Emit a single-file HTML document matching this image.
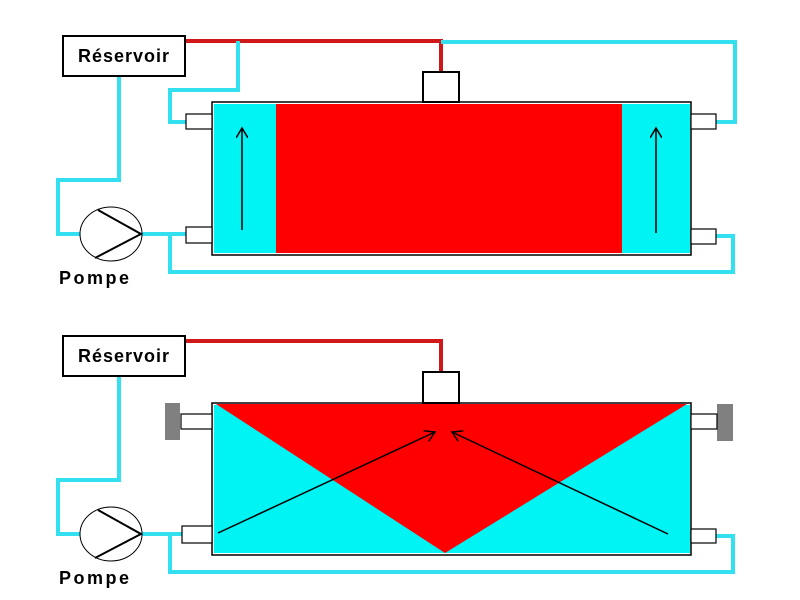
<!DOCTYPE html>
<html><head><meta charset="utf-8"><style>body{margin:0;background:#fff}svg{display:block}</style></head><body>
<svg width="800" height="600" viewBox="0 0 800 600" xmlns="http://www.w3.org/2000/svg" font-family="Liberation Sans, sans-serif">
<defs><marker id="a" markerWidth="12" markerHeight="12" refX="10" refY="6" orient="auto" markerUnits="userSpaceOnUse"><path d="M0,0 L10,6 L0,12" fill="none" stroke="#000" stroke-width="1.5"/></marker></defs>
<g fill="none" stroke-width="4">
<path d="M185,41 H441 V72" stroke="#d01818"/>
<path d="M238,41 V90 H170 V122 H186" stroke="#33e0f0"/>
<path d="M441,42 H735 V122 H716" stroke="#33e0f0"/>
<path d="M119,76 V180 H58 V234 H80" stroke="#33e0f0"/>
<path d="M141,234 H188 M170,234 V272 H733 V236 H716" stroke="#33e0f0"/>
<path d="M185,341 H441 V372" stroke="#d01818"/>
<path d="M119,376 V480 H58 V534 H80" stroke="#33e0f0"/>
<path d="M141,534 H188 M170,534 V572 H733 V536 H716" stroke="#33e0f0"/>
</g>
<rect x="63" y="36" width="122" height="40" fill="#fff" stroke="#000" stroke-width="2"/>
<text x="124" y="62" text-anchor="middle" font-weight="bold" font-size="18" letter-spacing="1">Réservoir</text>
<rect x="212" y="102" width="479" height="153" fill="#fff" stroke="#000" stroke-width="1.5"/>
<rect x="214" y="104" width="62" height="149" fill="#00f4f4"/>
<rect x="622" y="104" width="68" height="149" fill="#00f4f4"/>
<rect x="276" y="104" width="346" height="149" fill="#f00"/>
<rect x="423" y="72" width="36" height="30" fill="#fff" stroke="#000" stroke-width="2"/>
<g fill="#fff" stroke="#000" stroke-width="1.2">
<rect x="186" y="114" width="26" height="15"/><rect x="186" y="227" width="26" height="16"/>
<rect x="691" y="114" width="25" height="15"/><rect x="691" y="229" width="25" height="15"/>
</g>
<line x1="242" y1="230" x2="242" y2="128" stroke="#000" stroke-width="1.5" marker-end="url(#a)"/>
<line x1="656" y1="233" x2="656" y2="128" stroke="#000" stroke-width="1.5" marker-end="url(#a)"/>
<ellipse cx="111" cy="234" rx="31" ry="27" fill="#fff" stroke="#000" stroke-width="1"/>
<path d="M98,210 L141,234 L95,258" fill="none" stroke="#000" stroke-width="2"/>
<text x="59" y="284" font-weight="bold" font-size="18" letter-spacing="2.5">Pompe</text>
<rect x="63" y="336" width="122" height="40" fill="#fff" stroke="#000" stroke-width="2"/>
<text x="124" y="362" text-anchor="middle" font-weight="bold" font-size="18" letter-spacing="1">Réservoir</text>
<rect x="212" y="403" width="479" height="152" fill="#fff" stroke="#000" stroke-width="1.5"/>
<rect x="214" y="405" width="476" height="148" fill="#00f4f4"/>
<polygon points="216,404 687,404 445,553" fill="#f00"/>
<rect x="423" y="372" width="36" height="31" fill="#fff" stroke="#000" stroke-width="2"/>
<rect x="165" y="403" width="15" height="37" fill="#808080"/>
<rect x="717" y="404" width="16" height="37" fill="#808080"/>
<g fill="#fff" stroke="#000" stroke-width="1.2">
<rect x="181" y="414" width="31" height="15"/><rect x="182" y="526" width="30" height="17"/>
<rect x="691" y="414" width="26" height="15"/><rect x="691" y="529" width="25" height="14"/>
</g>
<line x1="218" y1="533" x2="435" y2="432" stroke="#000" stroke-width="1.5" marker-end="url(#a)"/>
<line x1="668" y1="534" x2="452" y2="432" stroke="#000" stroke-width="1.5" marker-end="url(#a)"/>
<ellipse cx="111" cy="534" rx="31" ry="27" fill="#fff" stroke="#000" stroke-width="1"/>
<path d="M98,510 L141,534 L95,558" fill="none" stroke="#000" stroke-width="2"/>
<text x="59" y="584" font-weight="bold" font-size="18" letter-spacing="2.5">Pompe</text>
</svg>
</body></html>
